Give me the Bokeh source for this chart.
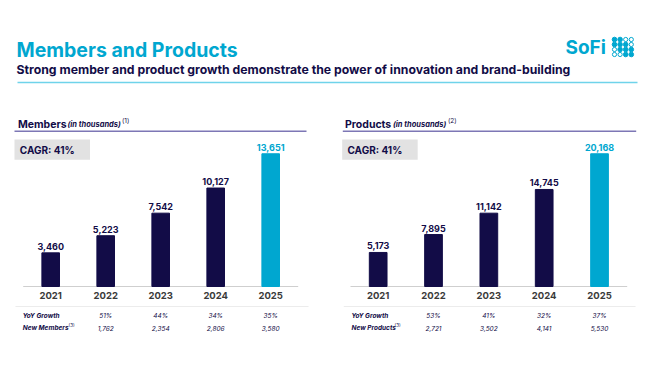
from bokeh.plotting import figure
from bokeh.models import Range1d, Label, LabelSet, ColumnDataSource, BoxAnnotation
from bokeh.layouts import column, row
from bokeh.embed import file_html
from bokeh.resources import INLINE
from bokeh.core.properties import value

# ---------------- data ----------------
years = ["2021", "2022", "2023", "2024", "2025"]
members = [3460, 5223, 7542, 10127, 13651]
products = [5173, 7895, 11142, 14745, 20168]
members_yoy = ["51%", "44%", "34%", "35%"]
members_new = ["1,762", "2,354", "2,806", "3,580"]
products_yoy = ["53%", "41%", "32%", "37%"]
products_new = ["2,721", "3,502", "4,141", "5,530"]
cagr_members = "CAGR: 41%"
cagr_products = "CAGR: 41%"

title_text = "Members and Products"
subtitle_text = "Strong member and product growth demonstrate the power of innovation and brand-building"

# logo dot pattern (1 = filled, 0 = ring)
logo_pattern = [[1, 1, 0, 0],
                [1, 1, 1, 0],
                [0, 1, 1, 1],
                [0, 0, 1, 1]]

FONT = "Inter"
NAVY = "#120c47"
CYAN = "#00a7d0"
PURPLE = "#7d77b5"
GRAY_TXT = "#3a3a3a"

# ---------------- header ----------------
HW, HH = 650, 100
hdr = figure(width=HW, height=HH, x_range=Range1d(0, HW), y_range=Range1d(0, HH),
             output_backend="svg", toolbar_location=None, title=None,
             x_axis_location=None, y_axis_location=None, min_border=0)
hdr.outline_line_color = None
hdr.grid.visible = False

hdr.add_layout(Label(x=16, y=51, text=title_text, text_font=FONT, text_font_size="19.5px",
                     text_font_style="bold", text_color=CYAN, text_baseline="middle"))
hdr.add_layout(Label(x=16, y=31, text=subtitle_text, text_font=FONT, text_font_size="12.25px",
                     text_font_style="bold", text_color=NAVY, text_baseline="middle"))
hdr.line([17, 637], [18, 18], line_color="#6fd3ea", line_width=1.5)
hdr.add_layout(Label(x=565, y=53, text="SoFi", text_font=FONT, text_font_size="19px",
                     text_font_style="bold", text_color=CYAN, text_baseline="middle"))
fx, fy, ex, ey = [], [], [], []
for r, rowp in enumerate(logo_pattern):
    for c, v in enumerate(rowp):
        xx = 614 + c * 5.6
        yy = 61 - r * 5.0
        if v:
            fx.append(xx); fy.append(yy)
        else:
            ex.append(xx); ey.append(yy)
hdr.scatter(fx, fy, size=4.6, fill_color=CYAN, line_color=CYAN)
hdr.scatter(ex, ey, size=4.2, fill_color="white", line_color=CYAN, line_width=1)


def slabel(p, x, y, text, size, style="bold", color=NAVY, baseline="middle"):
    p.add_layout(Label(x=x, y=y, x_units="screen", y_units="screen", text=text,
                       text_font=FONT, text_font_size=size, text_font_style=style,
                       text_color=color, text_baseline=baseline))


def sbox(p, l, r, t, b, color):
    p.add_layout(BoxAnnotation(left=l, right=r, top=t, bottom=b,
                               left_units="screen", right_units="screen",
                               top_units="screen", bottom_units="screen",
                               fill_color=color, fill_alpha=1, line_color=None))


# ---------------- panels ----------------
def panel(name, sup, values, yoy, new, new_label, cagr, g):
    W, H = 325, 286
    unit = g["unit"]
    k = max(values) * 1.1 / 146.0        # data units per pixel
    p = figure(width=W, height=H,
               x_range=Range1d(-0.5 - g["base_l"] / unit, 4.5 + (W - g["base_r"]) / unit),
               y_range=Range1d(-100 * k, 186 * k),
               min_border=0, output_backend="svg", toolbar_location=None, title=None,
               x_axis_location=None, y_axis_location=None)
    p.outline_line_color = None
    p.grid.visible = False

    xs = list(range(len(years)))
    colors = [NAVY] * (len(years) - 1) + [CYAN]
    src = ColumnDataSource(dict(x=xs, top=values, color=colors, zero=[0] * len(xs),
                                year=years, label=[f"{v:,}" for v in values]))
    # baseline across category band
    p.segment(x0=xs[0] - 0.5, x1=xs[-1] + 0.5, y0=0, y1=0, line_color="#cfcfcf", line_width=1.2)
    p.vbar(x="x", top="top", width=0.32, color="color", source=src)
    p.add_layout(LabelSet(x="x", y="top", text="label", source=src, y_offset=3,
                          text_align="center", text_baseline="bottom",
                          text_color="color", text_font=value(FONT), text_font_size="9px",
                          text_font_style="bold"))
    p.add_layout(LabelSet(x="x", y="zero", text="year", source=src, y_offset=-9,
                          text_align="center", text_baseline="middle",
                          text_color=GRAY_TXT, text_font=value(FONT), text_font_size="9.5px",
                          text_font_style="bold"))

    # header
    slabel(p, g["name_x"], 262, name, "10.5px", baseline="alphabetic")
    slabel(p, g["thou_x"], 262, "(in thousands)", "7.5px", style="bold italic", baseline="alphabetic")
    slabel(p, g["sup_x"], 266, sup, "6.5px", style="normal", baseline="alphabetic")
    sbox(p, g["line_l"], g["line_r"], 256, 254.6, PURPLE)
    # CAGR box
    sbox(p, g["box_l"], g["box_l"] + 75.5, 247, 226.7, "#e2e2e2")
    slabel(p, g["box_l"] + 5.3, 237, cagr, "10px")

    # separator
    sbox(p, g["sep_l"], g["sep_r"], 80.5, 79.5, "#ececec")
    # table rows
    slabel(p, g["tab_x"], 71, "YoY Growth", "6.5px", style="bold italic")
    slabel(p, g["tab_x"], 58.3, new_label, "6.5px", style="bold italic")
    slabel(p, g["sup3_x"], 61, "(3)", "4.5px", style="normal", baseline="alphabetic")
    tsrc = ColumnDataSource(dict(x=xs[1:], yoy=yoy, new=new))
    p.add_layout(LabelSet(x="x", y=71, y_units="screen", text="yoy", source=tsrc,
                          text_align="center", text_baseline="middle", text_color=NAVY,
                          text_font=value(FONT), text_font_size="6.5px", text_font_style="italic"))
    p.add_layout(LabelSet(x="x", y=58.3, y_units="screen", text="new", source=tsrc,
                          text_align="center", text_baseline="middle", text_color=NAVY,
                          text_font=value(FONT), text_font_size="6.5px", text_font_style="italic"))
    return p


geo_left = dict(unit=55.0, base_l=22.7, base_r=297.7, name_x=17.5, thou_x=67, sup_x=121.5,
                line_l=14, line_r=306, box_l=14, sep_l=15, sep_r=308, tab_x=22.3, sup3_x=68)
geo_right = dict(unit=55.33, base_l=25, base_r=301.7, name_x=19.5, thou_x=67.5, sup_x=122.5,
                 line_l=17.3, line_r=310.7, box_l=16.7, sep_l=18.3, sep_r=310, tab_x=26, sup3_x=69)

left = panel("Members", "(1)", members, members_yoy, members_new, "New Members",
             cagr_members, geo_left)
right = panel("Products", "(2)", products, products_yoy, products_new, "New Products",
              cagr_products, geo_right)

layout = column(hdr, row(left, right))
open("out.html", "w").write(file_html(layout, INLINE))
